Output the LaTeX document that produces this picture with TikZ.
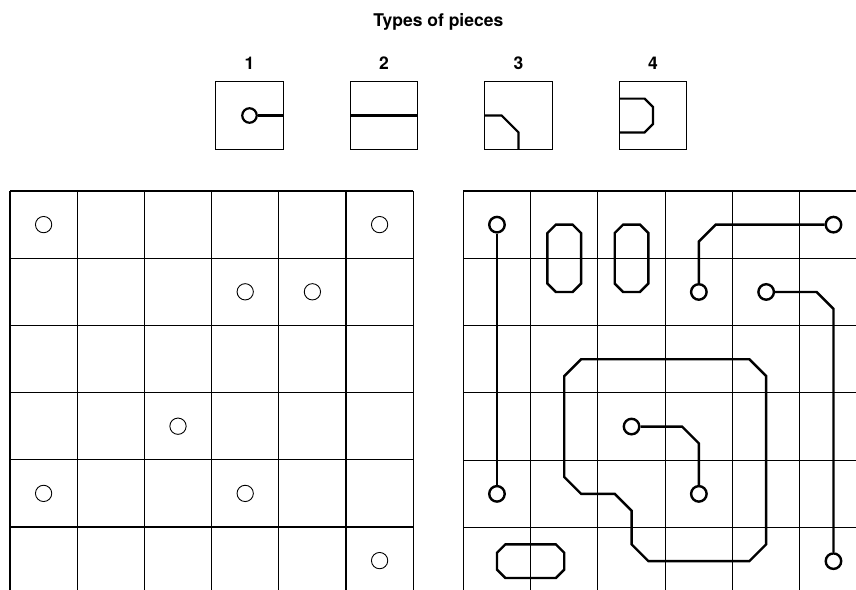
\documentclass[tikz,border=0pt]{standalone}
\usepackage{fontspec}
\setmainfont{TeX Gyre Heros}
\tikzset{
  gridline/.style={line width=1.15pt},
  hole/.style={circle, draw, line width=0.9pt, minimum size=16.3pt, inner sep=0pt},
  pad/.style={circle, draw, fill=white, line width=2.4pt, minimum size=15.5pt, inner sep=0pt},
  smallpad/.style={circle, draw, fill=white, line width=2.2pt, minimum size=14.5pt, inner sep=0pt},
  trace/.style={line width=2.4pt, line join=miter},
  piecebox/.style={line width=1.1pt},
  piecetrace/.style={line width=2.2pt, line join=miter},
  piecelabel/.style={font=\fontsize{17.5pt}{20pt}\selectfont\bfseries, inner sep=0pt},
  titletext/.style={font=\fontsize{17.5pt}{21pt}\selectfont\bfseries, inner sep=0pt}
}
\begin{document}
\begin{tikzpicture}[x=1pt,y=-1pt]
\useasboundingbox (0,0) rectangle (856,589);
\clip (0,0) rectangle (856,589);

% title and piece labels
\node[titletext] (title) at (438.3,22) {Types of pieces};
\node[piecelabel] (l1) at (249.5,63) {1};
\node[piecelabel] (l2) at (384,63) {2};
\node[piecelabel] (l3) at (518.5,63) {3};
\node[piecelabel] (l4) at (653,63) {4};

% piece 1
\begin{scope}[shift={(215.7pt,-81.7pt)},x=67.6pt,y=-67.6pt]
  \draw[piecebox] (0,0) rectangle (1,1);
  \coordinate (e1) at (1,0.5);
  \node[smallpad] (q1) at (0.5,0.5) {};
  \draw[piecetrace] (q1.east) -- (e1);
\end{scope}
% piece 2
\begin{scope}[shift={(350.2pt,-81.7pt)},x=67.6pt,y=-67.6pt]
  \draw[piecebox] (0,0) rectangle (1,1);
  \draw[piecetrace] (0,0.5) -- (1,0.5);
\end{scope}
% piece 3
\begin{scope}[shift={(484.7pt,-81.7pt)},x=67.6pt,y=-67.6pt]
  \draw[piecebox] (0,0) rectangle (1,1);
  \draw[piecetrace] (0,0.5) -- (0.25,0.5) -- (0.5,0.75) -- (0.5,1);
\end{scope}
% piece 4
\begin{scope}[shift={(619.2pt,-81.7pt)},x=67.6pt,y=-67.6pt]
  \draw[piecebox] (0,0) rectangle (1,1);
  \draw[piecetrace] (0,0.25) -- (0.375,0.25) -- (0.5,0.375) -- (0.5,0.625) -- (0.375,0.75) -- (0,0.75);
\end{scope}

% left board
\begin{scope}[shift={(10pt,-191pt)},x=67.2pt,y=-67.2pt]
  \foreach \i in {0,...,6} {
    \draw[gridline] (\i,0) -- (\i,6);
    \draw[gridline] (0,\i) -- (6,\i);
  }
  \node[hole] (h00) at (0.5,0.5) {};
  \node[hole] (h50) at (5.5,0.5) {};
  \node[hole] (h31) at (3.5,1.5) {};
  \node[hole] (h41) at (4.5,1.5) {};
  \node[hole] (h23) at (2.5,3.5) {};
  \node[hole] (h04) at (0.5,4.5) {};
  \node[hole] (h34) at (3.5,4.5) {};
  \node[hole] (h55) at (5.5,5.5) {};
\end{scope}

% right board
\begin{scope}[shift={(463.3pt,-191pt)},x=67.3pt,y=-67.3pt]
  \foreach \i in {0,...,6} {
    \draw[gridline] (\i,0) -- (\i,6);
    \draw[gridline] (0,\i) -- (6,\i);
  }
  % pills
  \draw[trace] (1.375,0.5) -- (1.625,0.5) -- (1.75,0.625) -- (1.75,1.375) -- (1.625,1.5) -- (1.375,1.5) -- (1.25,1.375) -- (1.25,0.625) -- cycle;
  \draw[trace] (2.375,0.5) -- (2.625,0.5) -- (2.75,0.625) -- (2.75,1.375) -- (2.625,1.5) -- (2.375,1.5) -- (2.25,1.375) -- (2.25,0.625) -- cycle;
  \draw[trace] (0.625,5.25) -- (1.375,5.25) -- (1.5,5.375) -- (1.5,5.625) -- (1.375,5.75) -- (0.625,5.75) -- (0.5,5.625) -- (0.5,5.375) -- cycle;
  % big loop
  \draw[trace] (1.75,2.5) -- (4.25,2.5) -- (4.5,2.75) -- (4.5,5.25) -- (4.25,5.5) -- (2.75,5.5) -- (2.5,5.25) -- (2.5,4.75) -- (2.25,4.5) -- (1.75,4.5) -- (1.5,4.25) -- (1.5,2.75) -- cycle;
  % pads
  \node[pad] (p00) at (0.5,0.5) {};
  \node[pad] (p04) at (0.5,4.5) {};
  \node[pad] (p31) at (3.5,1.5) {};
  \node[pad] (p50) at (5.5,0.5) {};
  \node[pad] (p41) at (4.5,1.5) {};
  \node[pad] (p55) at (5.5,5.5) {};
  \node[pad] (p23) at (2.5,3.5) {};
  \node[pad] (p34) at (3.5,4.5) {};
  % traces
  \draw[trace] (p00.south) -- (p04.north);
  \draw[trace] (p31.north) -- (3.5,0.75) -- (3.75,0.5) -- (p50.west);
  \draw[trace] (p41.east) -- (5.25,1.5) -- (5.5,1.75) -- (p55.north);
  \draw[trace] (p23.east) -- (3.25,3.5) -- (3.5,3.75) -- (p34.north);
\end{scope}
\end{tikzpicture}
\end{document}
